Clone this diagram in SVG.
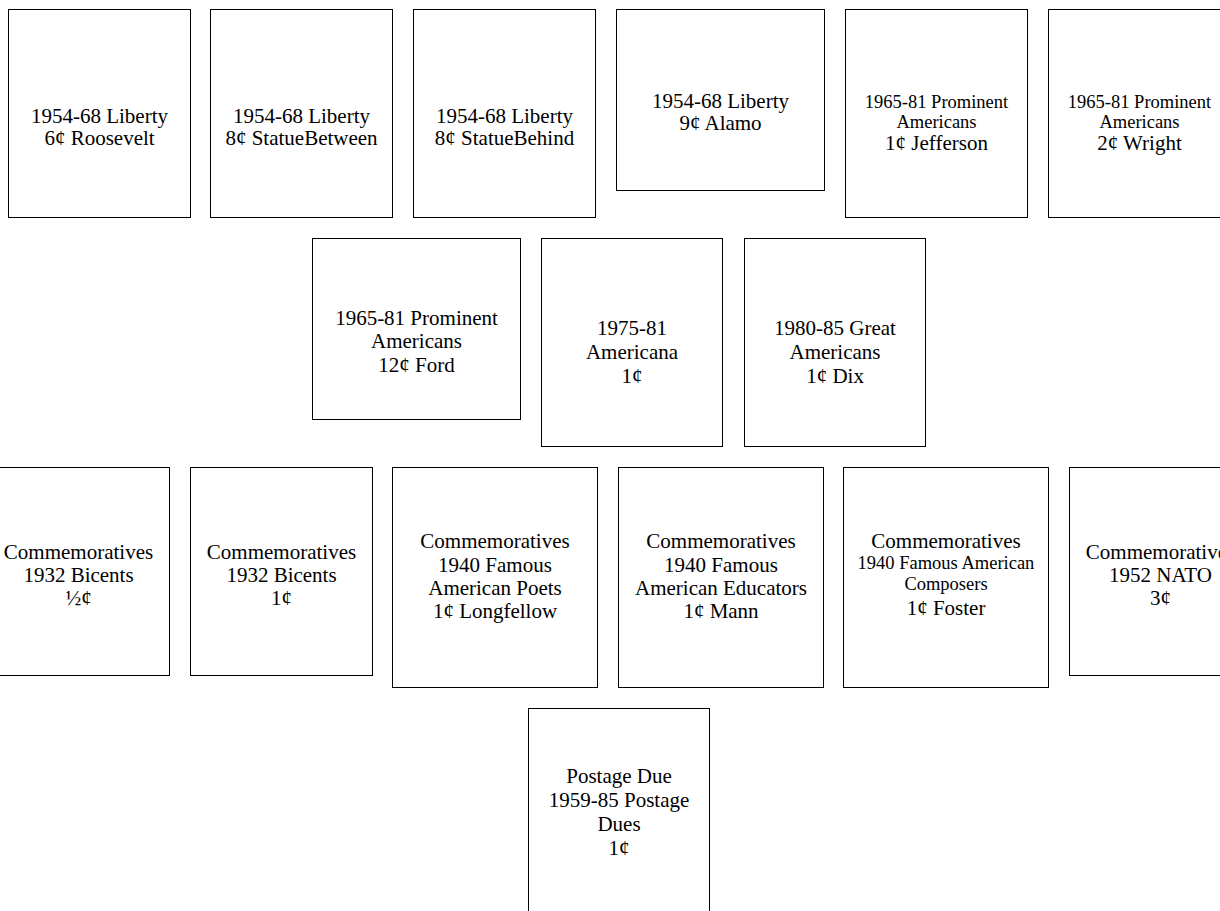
<svg xmlns="http://www.w3.org/2000/svg" width="1220" height="911" viewBox="0 0 1220 911">
<style>
rect.b{fill:#fff;stroke:#000;stroke-width:1}
text{font-family:"Liberation Serif","Times New Roman",serif;font-size:21px;fill:#000;text-anchor:middle}
text .s{font-size:18.5px}
</style>
<rect width="1220" height="911" fill="#fff"/>
<g id="connectors"></g>
<g id="n1"><rect class="b" x="8.5" y="9.5" width="182" height="208"/><text><tspan x="99.5" y="123">1954-68 Liberty</tspan><tspan x="99.5" y="145">6¢ Roosevelt</tspan></text></g>
<g id="n2"><rect class="b" x="210.5" y="9.5" width="182" height="208"/><text><tspan x="301.5" y="123">1954-68 Liberty</tspan><tspan x="301.5" y="145">8¢ StatueBetween</tspan></text></g>
<g id="n3"><rect class="b" x="413.5" y="9.5" width="182" height="208"/><text><tspan x="504.5" y="123">1954-68 Liberty</tspan><tspan x="504.5" y="145">8¢ StatueBehind</tspan></text></g>
<g id="n4"><rect class="b" x="616.5" y="9.5" width="208" height="181"/><text><tspan x="720.5" y="108">1954-68 Liberty</tspan><tspan x="720.5" y="130">9¢ Alamo</tspan></text></g>
<g id="n5"><rect class="b" x="845.5" y="9.5" width="182" height="208"/><text><tspan class="s" x="936.5" y="108">1965-81 Prominent</tspan><tspan class="s" x="936.5" y="128">Americans</tspan><tspan x="936.5" y="150">1¢ Jefferson</tspan></text></g>
<g id="n6"><rect class="b" x="1048.5" y="9.5" width="182" height="208"/><text><tspan class="s" x="1139.5" y="108">1965-81 Prominent</tspan><tspan class="s" x="1139.5" y="128">Americans</tspan><tspan x="1139.5" y="150">2¢ Wright</tspan></text></g>
<g id="n7"><rect class="b" x="312.5" y="238.5" width="208" height="181"/><text><tspan x="416.5" y="325">1965-81 Prominent</tspan><tspan x="416.5" y="348">Americans</tspan><tspan x="416.5" y="372">12¢ Ford</tspan></text></g>
<g id="n8"><rect class="b" x="541.5" y="238.5" width="181" height="208"/><text><tspan x="632" y="335">1975-81</tspan><tspan x="632" y="359">Americana</tspan><tspan x="632" y="383">1¢</tspan></text></g>
<g id="n9"><rect class="b" x="744.5" y="238.5" width="181" height="208"/><text><tspan x="835" y="335">1980-85 Great</tspan><tspan x="835" y="359">Americans</tspan><tspan x="835" y="383">1¢ Dix</tspan></text></g>
<g id="n10"><rect class="b" x="-12.5" y="467.5" width="182" height="208"/><text><tspan x="78.5" y="559">Commemoratives</tspan><tspan x="78.5" y="582">1932 Bicents</tspan><tspan x="78.5" y="605">½¢</tspan></text></g>
<g id="n11"><rect class="b" x="190.5" y="467.5" width="182" height="208"/><text><tspan x="281.5" y="559">Commemoratives</tspan><tspan x="281.5" y="582">1932 Bicents</tspan><tspan x="281.5" y="605">1¢</tspan></text></g>
<g id="n12"><rect class="b" x="392.5" y="467.5" width="205" height="220"/><text><tspan x="495" y="548">Commemoratives</tspan><tspan x="495" y="572">1940 Famous</tspan><tspan x="495" y="595">American Poets</tspan><tspan x="495" y="618">1¢ Longfellow</tspan></text></g>
<g id="n13"><rect class="b" x="618.5" y="467.5" width="205" height="220"/><text><tspan x="721" y="548">Commemoratives</tspan><tspan x="721" y="572">1940 Famous</tspan><tspan x="721" y="595">American Educators</tspan><tspan x="721" y="618">1¢ Mann</tspan></text></g>
<g id="n14"><rect class="b" x="843.5" y="467.5" width="205" height="220"/><text><tspan x="946" y="548">Commemoratives</tspan><tspan class="s" x="946" y="569">1940 Famous American</tspan><tspan class="s" x="946" y="590">Composers</tspan><tspan x="946" y="615">1¢ Foster</tspan></text></g>
<g id="n15"><rect class="b" x="1069.5" y="467.5" width="182" height="208"/><text><tspan x="1160.5" y="559">Commemoratives</tspan><tspan x="1160.5" y="582">1952 NATO</tspan><tspan x="1160.5" y="605">3¢</tspan></text></g>
<g id="n16"><rect class="b" x="528.5" y="708.5" width="181" height="220"/><text><tspan x="619" y="783">Postage Due</tspan><tspan x="619" y="807">1959-85 Postage</tspan><tspan x="619" y="831">Dues</tspan><tspan x="619" y="855">1¢</tspan></text></g>
</svg>
